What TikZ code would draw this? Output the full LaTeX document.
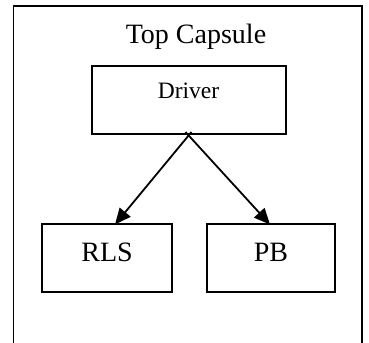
\documentclass[tikz,border=0pt]{standalone}
\usepackage{fontspec}
\setmainfont{Liberation Serif}
\usetikzlibrary{arrows.meta}
\begin{document}
\begin{tikzpicture}[x=1bp,y=-1bp,
  frame/.style={line width=1.8bp},
  box/.style={draw,line width=1.8bp,rectangle,inner sep=0pt},
  bigtext/.style={font=\fontsize{28bp}{32bp}\selectfont,anchor=base,inner sep=0pt},
  smalltext/.style={font=\fontsize{23.5bp}{27bp}\selectfont,anchor=base,inner sep=0pt},
  link/.style={line width=1.8bp,-{Triangle[length=16bp,width=14bp]}}]
  \useasboundingbox (0,0) rectangle (369,343);
  % capsule frame, open at the bottom
  \draw[frame] (13.5,350) -- (13.5,6) -- (362,6) -- (362,350);
  \node[bigtext] (title) at (196,43) {Top Capsule};
  % parts
  \node[box,minimum width=194bp,minimum height=68bp] (driver) at (189,100) {};
  \node[smalltext] (driverlabel) at (188.5,98) {Driver};
  \node[box,minimum width=130bp,minimum height=68bp] (rls) at (107,258) {};
  \node[bigtext] (rlslabel) at (107,261) {RLS};
  \node[box,minimum width=128bp,minimum height=68bp] (pb) at (271,258) {};
  \node[bigtext] (pblabel) at (271,261) {PB};
  % connectors leave the driver crossing at its lower edge
  \coordinate (startl) at (191.5,132);
  \coordinate (startr) at (185.5,132);
  \coordinate (rlstop) at (115,224.5);
  \coordinate (pbtop) at (270,224.5);
  \draw[link] (startl) -- (rlstop);
  \draw[link] (startr) -- (pbtop);
\end{tikzpicture}
\end{document}
